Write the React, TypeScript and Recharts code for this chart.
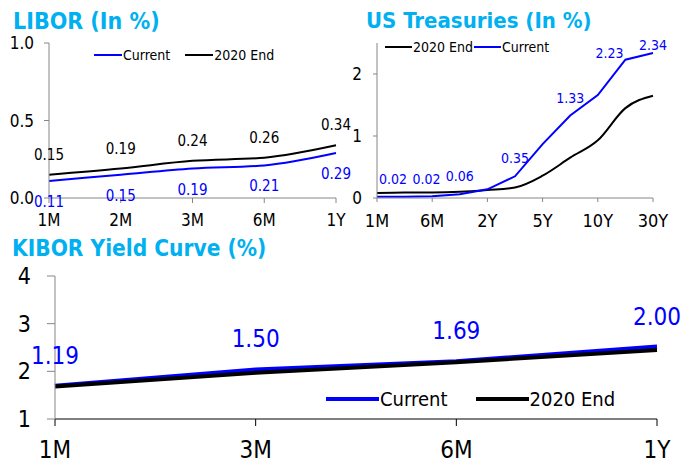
import React from "react";
import { LineChart, Line, XAxis, YAxis, Legend, LabelList } from "recharts";

const FONT = "Tahoma, 'DejaVu Sans Condensed', 'DejaVu Sans', sans-serif";
const BLUE = "#0000ff";
const BLACK = "#000000";
const TITLE_BLUE = "#00b0f0";
const AXIS_GREY = "#868686";

// LIBOR (%)
const liborTenors = ["1M", "2M", "3M", "6M", "1Y"];
const liborCurrent = [0.11, 0.15, 0.19, 0.21, 0.29];
const liborEnd2020 = [0.15, 0.19, 0.24, 0.26, 0.34];
const liborTicks = [0, 0.5, 1];

// US Treasuries (%)
const ustTenors = ["1M", "3M", "6M", "1Y", "2Y", "3Y", "5Y", "7Y", "10Y", "20Y", "30Y"];
const ustCurrent = [0.02, 0.02, 0.03, 0.06, 0.14, 0.35, 0.87, 1.33, 1.66, 2.23, 2.34];
const ustEnd2020 = [0.08, 0.09, 0.09, 0.1, 0.13, 0.17, 0.36, 0.65, 0.93, 1.45, 1.65];
const ustLabels = ["0.02", "0.02", "", "0.06", "", "0.35", "", "1.33", "", "2.23", "2.34"];
const ustTicks = [0, 1, 2];

// KIBOR (%)
const kiborTenors = ["1M", "3M", "6M", "1Y"];
const kiborCurrent = [1.7, 2.04, 2.21, 2.52];
const kiborEnd2020 = [1.68, 1.97, 2.19, 2.45];
const kiborLabels = ["1.19", "1.50", "1.69", "2.00"];
const kiborTicks = [1, 2, 3, 4];

const liborData = liborTenors.map((t, i) => ({ tenor: t, current: liborCurrent[i], end2020: liborEnd2020[i] }));
const ustData = ustTenors.map((t, i) => ({ tenor: t, current: ustCurrent[i], end2020: ustEnd2020[i] }));
const kiborData = kiborTenors.map((t, i) => ({ tenor: t, current: kiborCurrent[i], end2020: kiborEnd2020[i] }));

// nudges for the US labels that sit off their point in the original
const ustLabelShift: [number, number][] = [
  [16, 0], [22, 0], [0, 0], [0, 0], [0, 0], [0, 0], [0, 0], [0, 0], [0, 0], [-16, 11], [0, 10],
];

type LegendItem = { name: string; color: string };

function LegendRow({ items, lineW, lineH, fontSize, gap }: { items: LegendItem[]; lineW: number; lineH: number; fontSize: number; gap: number }) {
  return (
    <div style={{ display: "flex", alignItems: "center", fontFamily: FONT, fontSize, lineHeight: `${fontSize + 4}px`, color: "#000", whiteSpace: "nowrap" }}>
      {items.map((it, i) => (
        <div key={it.name} style={{ display: "flex", alignItems: "center", marginRight: i < items.length - 1 ? gap : 0 }}>
          <svg width={lineW} height={lineH} style={{ marginRight: 1 }}>
            <line x1={0} y1={lineH / 2} x2={lineW} y2={lineH / 2} stroke={it.color} strokeWidth={lineH} />
          </svg>
          <span>{it.name}</span>
        </div>
      ))}
    </div>
  );
}

function Title({ text, left, top, size }: { text: string; left: number; top: number; size: number }) {
  return (
    <div style={{ position: "absolute", left, top, fontFamily: FONT, fontWeight: "bold", fontSize: size, lineHeight: 1, color: TITLE_BLUE, whiteSpace: "nowrap" }}>
      {text}
    </div>
  );
}

function LiborChart() {
  const above = (p: any) => (
    <text x={p.x} y={p.y - 20} textAnchor="middle" dominantBaseline="central" fontSize={15} fontFamily={FONT} fill={BLACK}>
      {Number(p.value).toFixed(2)}
    </text>
  );
  const below = (p: any) => (
    <text x={p.x} y={p.y + 21} textAnchor="middle" dominantBaseline="central" fontSize={15} fontFamily={FONT} fill={BLUE}>
      {Number(p.value).toFixed(2)}
    </text>
  );
  return (
    <LineChart width={362} height={240} data={liborData} margin={{ top: 43, right: 26, bottom: 0, left: 0 }}>
      <XAxis dataKey="tenor" interval={0} height={42} stroke={AXIS_GREY} tickSize={5} tickMargin={11} tick={{ fill: BLACK, fontSize: 17, fontFamily: FONT }} />
      <YAxis width={49} domain={[0, 1]} ticks={liborTicks} tickFormatter={(v) => Number(v).toFixed(1)} stroke={AXIS_GREY} tickSize={5} tickMargin={10} tick={{ fill: BLACK, fontSize: 17, fontFamily: FONT }} />
      <Legend
        verticalAlign="middle"
        align="center"
        layout="horizontal"
        wrapperStyle={{ top: 46, left: 94, width: "auto" }}
        content={() => (
          <LegendRow items={[{ name: "Current", color: BLUE }, { name: "2020 End", color: BLACK }]} lineW={28} lineH={2} fontSize={14} gap={15} />
        )}
      />
      <Line type="monotone" dataKey="current" stroke={BLUE} strokeWidth={2} dot={false} isAnimationActive={false}>
        <LabelList dataKey="current" content={below} />
      </Line>
      <Line type="monotone" dataKey="end2020" stroke={BLACK} strokeWidth={2} dot={false} isAnimationActive={false}>
        <LabelList dataKey="end2020" content={above} />
      </Line>
    </LineChart>
  );
}

function UstChart() {
  const label = (p: any) => {
    const text = ustLabels[p.index];
    if (!text) return null;
    const [dx, dy] = ustLabelShift[p.index];
    return (
      <text x={p.x + dx} y={p.y - 18 + dy} textAnchor="middle" dominantBaseline="central" fontSize={14} fontFamily={FONT} fill={BLUE}>
        {text}
      </text>
    );
  };
  return (
    <LineChart width={350} height={240} data={ustData} margin={{ top: 43, right: 42, bottom: 0, left: 0 }}>
      <XAxis dataKey="tenor" interval={1} height={42} stroke={AXIS_GREY} tickSize={4} tickMargin={12} tick={{ fill: BLACK, fontSize: 18, fontFamily: FONT }} />
      <YAxis width={32} domain={[0, 2.5]} ticks={ustTicks} stroke={AXIS_GREY} tickSize={4} tickMargin={11} tick={{ fill: BLACK, fontSize: 17, fontFamily: FONT }} />
      <Legend
        verticalAlign="middle"
        align="center"
        layout="horizontal"
        wrapperStyle={{ top: 38, left: 40, width: "auto" }}
        content={() => (
          <LegendRow items={[{ name: "2020 End", color: BLACK }, { name: "Current", color: BLUE }]} lineW={27} lineH={2} fontSize={14} gap={1} />
        )}
      />
      <Line type="monotone" dataKey="end2020" stroke={BLACK} strokeWidth={2} dot={false} isAnimationActive={false} />
      <Line type="linear" dataKey="current" stroke={BLUE} strokeWidth={2} dot={false} isAnimationActive={false}>
        <LabelList dataKey="current" content={label} />
      </Line>
    </LineChart>
  );
}

function KiborChart() {
  const label = (p: any) => (
    <text x={p.x} y={p.y - 30} textAnchor="middle" dominantBaseline="central" fontSize={24} fontFamily={FONT} fill={BLUE}>
      {kiborLabels[p.index]}
    </text>
  );
  return (
    <LineChart width={695} height={231} data={kiborData} margin={{ top: 41, right: 38, bottom: 0, left: 0 }}>
      <XAxis dataKey="tenor" interval={0} height={47} stroke={BLACK} tickSize={7} tickMargin={15} tick={{ fill: BLACK, fontSize: 24, fontFamily: FONT }} />
      <YAxis width={55} domain={[1, 4]} ticks={kiborTicks} stroke={AXIS_GREY} tickSize={8} tickMargin={16} tick={{ fill: BLACK, fontSize: 23, fontFamily: FONT }} />
      <Legend
        verticalAlign="middle"
        align="center"
        layout="horizontal"
        wrapperStyle={{ top: 152, left: 326, width: "auto" }}
        content={() => (
          <LegendRow items={[{ name: "Current", color: BLUE }, { name: "2020 End", color: BLACK }]} lineW={53} lineH={4} fontSize={20} gap={28} />
        )}
      />
      <Line type="linear" dataKey="current" stroke={BLUE} strokeWidth={4} dot={false} isAnimationActive={false}>
        <LabelList dataKey="current" content={label} />
      </Line>
      <Line type="linear" dataKey="end2020" stroke={BLACK} strokeWidth={4} dot={false} isAnimationActive={false} />
    </LineChart>
  );
}

export default function App() {
  return (
    <div style={{ position: "absolute", left: 0, top: 0, width: 695, height: 466, background: "#fff", overflow: "hidden", fontFamily: FONT }}>
      <div style={{ position: "absolute", left: 0, top: 0 }}>
        <LiborChart />
      </div>
      <div style={{ position: "absolute", left: 345, top: 0 }}>
        <UstChart />
      </div>
      <div style={{ position: "absolute", left: 0, top: 235 }}>
        <KiborChart />
      </div>
      <Title text="LIBOR (In %)" left={13} top={10} size={23} />
      <Title text="US Treasuries (In %)" left={366} top={10} size={22} />
      <Title text="KIBOR Yield Curve (%)" left={12} top={237} size={22.5} />
    </div>
  );
}
